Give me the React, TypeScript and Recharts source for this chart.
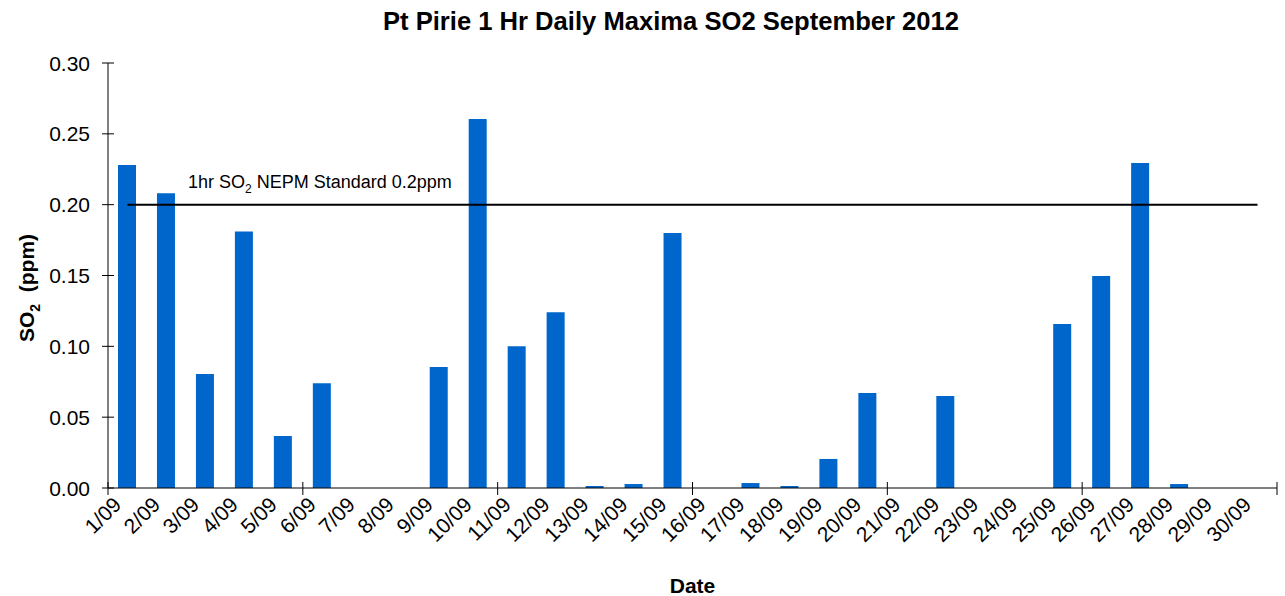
import { Bar, ComposedChart, Line, ReferenceLine, XAxis, YAxis } from 'recharts'

const DATES = [
  '1/09', '2/09', '3/09', '4/09', '5/09', '6/09', '7/09', '8/09', '9/09', '10/09',
  '11/09', '12/09', '13/09', '14/09', '15/09', '16/09', '17/09', '18/09', '19/09', '20/09',
  '21/09', '22/09', '23/09', '24/09', '25/09', '26/09', '27/09', '28/09', '29/09', '30/09',
]

// 1 hr daily maxima, ppm (null = no bar)
const SO2_MAX = [
  0.228, 0.208, 0.0805, 0.181, 0.0367, 0.074, null, null, 0.0854, 0.2605,
  0.1, 0.124, 0.0014, 0.0028, 0.18, null, 0.0035, 0.0014, 0.0205, 0.067,
  null, 0.065, null, null, 0.1158, 0.1497, 0.2294, 0.0028, null, null,
]

const Y_TICKS = [0, 0.05, 0.1, 0.15, 0.2, 0.25, 0.3]
const MARK_EVERY = 5
const NEPM_STANDARD = 0.2

const FONT = '"Liberation Sans", Arial, sans-serif'

const data = DATES.map((date, i) => ({
  date,
  so2: SO2_MAX[i],
  standard: NEPM_STANDARD,
}))

function YTick({ x, y, payload }: any) {
  return (
    <g>
      <line x1={x - 6} x2={x + 6} y1={y} y2={y} stroke="#000" />
      <text x={x - 18} y={y} dy="0.36em" textAnchor="end" fontSize={21} fill="#000" fontFamily={FONT}>
        {payload.value.toFixed(2)}
      </text>
    </g>
  )
}

// label at the category centre, tick marks on category edges every 5 days
function DateTick({ x, y, payload, index }: any) {
  const half = payload.offset || 0
  const tx = x - 5
  const ty = y + 18
  return (
    <g>
      {index % MARK_EVERY === 0 && (
        <line x1={x - half} x2={x - half} y1={y - 6} y2={y + 7} stroke="#000" />
      )}
      {index === DATES.length - 1 && (
        <line x1={x + half} x2={x + half} y1={y - 6} y2={y + 7} stroke="#000" />
      )}
      <text
        x={tx}
        y={ty}
        textAnchor="end"
        fontSize={21}
        fill="#000"
        fontFamily={FONT}
        transform={`rotate(-45, ${tx}, ${ty})`}
      >
        {payload.value}
      </text>
    </g>
  )
}

function StandardLabel({ viewBox }: any) {
  const x = viewBox.x + 80
  const y = viewBox.y - 17
  return (
    <text x={x} y={y} fontSize={18} fill="#000" fontFamily={FONT}>
      1hr SO
      <tspan fontSize={12} dy={5}>2</tspan>
      <tspan dy={-5}> NEPM Standard 0.2ppm</tspan>
    </text>
  )
}

export default function App() {
  return (
    <div style={{ position: 'relative', width: 1285, height: 596, fontFamily: FONT, background: '#fff' }}>
      <style>{'body{margin:0}'}</style>
      <div
        style={{
          position: 'absolute',
          top: 7,
          left: 0,
          width: 1342,
          textAlign: 'center',
          fontSize: 25.6,
          fontWeight: 'bold',
        }}
      >
        Pt Pirie 1 Hr Daily Maxima SO2 September 2012
      </div>
      <div
        style={{
          position: 'absolute',
          left: 29,
          top: 288,
          transform: 'translate(-50%, -50%) rotate(-90deg)',
          fontSize: 21,
          fontWeight: 'bold',
          whiteSpace: 'pre',
        }}
      >
        SO<sub style={{ fontSize: 14 }}>2</sub>  (ppm)
      </div>
      <div
        style={{
          position: 'absolute',
          left: 0,
          width: 1385,
          top: 574,
          textAlign: 'center',
          fontSize: 21,
          fontWeight: 'bold',
        }}
      >
        Date
      </div>
      <ComposedChart
        width={1285}
        height={596}
        data={data}
        margin={{ top: 63, right: 8, bottom: 0, left: 48 }}
        barSize={18}
      >
        <XAxis
          dataKey="date"
          height={108}
          tick={<DateTick />}
          tickLine={false}
          axisLine={{ stroke: '#000' }}
          interval={0}
          tickSize={0}
          tickMargin={0}
        />
        <YAxis
          width={60}
          domain={[0, 0.3]}
          ticks={Y_TICKS}
          tick={<YTick />}
          tickLine={false}
          axisLine={{ stroke: '#000' }}
          tickSize={0}
          tickMargin={0}
          interval={0}
        />
        <Bar dataKey="so2" fill="#0066CC" isAnimationActive={false} />
        <Line
          dataKey="standard"
          stroke="#000"
          strokeWidth={2}
          dot={false}
          activeDot={false}
          isAnimationActive={false}
        />
        <ReferenceLine y={NEPM_STANDARD} stroke="none" label={<StandardLabel />} />
      </ComposedChart>
    </div>
  )
}
